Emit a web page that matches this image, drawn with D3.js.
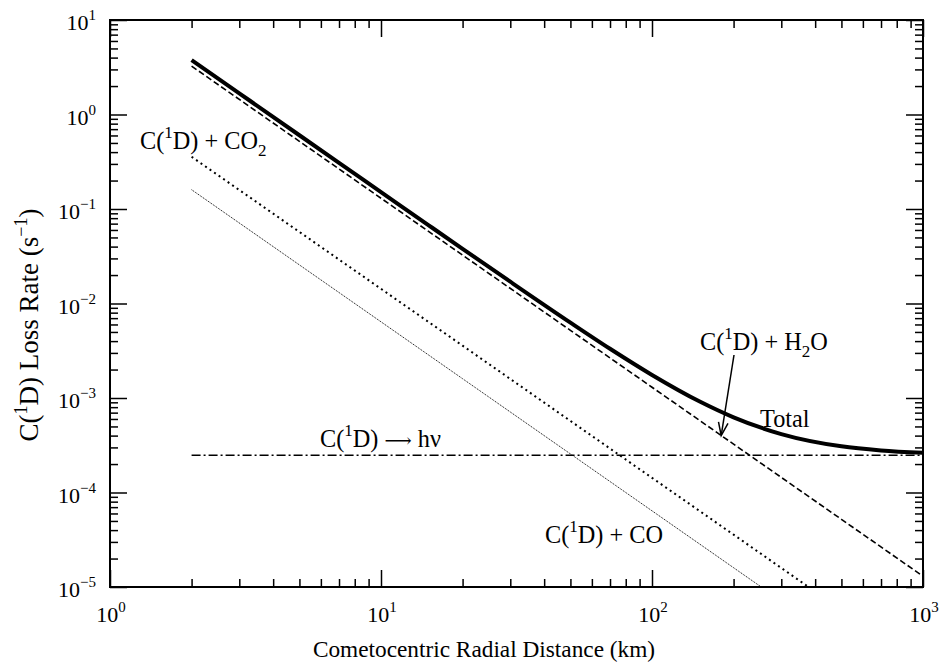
<!DOCTYPE html>
<html><head><meta charset="utf-8">
<script src="https://cdn.jsdelivr.net/npm/d3@7"></script>
<style>
body{margin:0;background:#fff;}
text{font-family:"Liberation Serif","Times New Roman",serif;fill:#000;}
</style></head>
<body><svg id="c" width="943" height="666"></svg>
<script>
// ---- data ----
const xMajor = [1, 10, 100, 1000];
const xMajorExp = ["0", "1", "2", "3"];
const yMajor = [1e-5, 1e-4, 1e-3, 1e-2, 1e-1, 1, 10];
const yMajorExp = ["\u22125", "\u22124", "\u22123", "\u22122", "\u22121", "0", "1"];

const rH2O = [2, 5, 10, 20, 50, 100, 200, 500, 1000];
const vH2O = [3.25, 0.52, 0.13, 0.0325, 0.0052, 0.0013, 3.25e-4, 5.2e-5, 1.3e-5];

const rCO2 = [2, 5, 10, 20, 50, 100, 200, 500];
const vCO2 = [0.357, 0.0572, 0.0143, 3.58e-3, 5.72e-4, 1.43e-4, 3.58e-5, 5.72e-6];

const rCO = [2, 5, 10, 20, 50, 100, 200, 500];
const vCO = [0.16, 0.0256, 6.4e-3, 1.6e-3, 2.56e-4, 6.4e-5, 1.6e-5, 2.56e-6];

const rHv = [2, 1000];
const vHv = [2.48e-4, 2.48e-4];

const rTot = [2, 3, 5, 7, 10, 15, 20, 30, 50, 70, 100, 150, 200, 300, 500, 700, 1000];
const vTot = [3.77, 1.675, 0.603, 0.3078, 0.151, 0.0672, 0.0379, 0.017, 0.00628, 0.00332,
              0.001755, 0.000918, 0.000625, 0.000415, 0.000308, 0.000279, 0.000263];

// ---- chart ----
const svg = d3.select("#c");
const L = 110, R = 923, T = 20, B = 587;
const x = d3.scaleLog().domain([1, 1000]).range([L, R]);
const y = d3.scaleLog().domain([1e-5, 10]).range([B, T]);

const minors = (dom) => {
  const out = [];
  for (let d = dom[0]; d < dom[1]; d *= 10)
    for (let k = 2; k <= 9; k++) out.push(d * k);
  return out;
};
const xMinor = minors([1, 1000]);
const yMinor = minors([1e-5, 10]);

svg.append("defs").append("clipPath").attr("id", "clip")
  .append("rect").attr("x", L).attr("y", T).attr("width", R - L).attr("height", B - T);

function axisStyle(g) {
  g.select(".domain").remove();
  g.selectAll(".tick line").attr("stroke", "#000").attr("stroke-width", 1.5);
  g.selectAll(".tick text").remove();
}
const MAJ = 17, MIN = 8;
svg.append("g").attr("transform", `translate(0,${B})`).call(d3.axisBottom(x).tickValues(xMajor).tickSize(-MAJ)).call(axisStyle);
svg.append("g").attr("transform", `translate(0,${B})`).call(d3.axisBottom(x).tickValues(xMinor).tickSize(-MIN)).call(axisStyle);
svg.append("g").attr("transform", `translate(0,${T})`).call(d3.axisTop(x).tickValues(xMajor).tickSize(-MAJ)).call(axisStyle);
svg.append("g").attr("transform", `translate(0,${T})`).call(d3.axisTop(x).tickValues(xMinor).tickSize(-MIN)).call(axisStyle);
svg.append("g").attr("transform", `translate(${L},0)`).call(d3.axisLeft(y).tickValues(yMajor).tickSize(-MAJ)).call(axisStyle);
svg.append("g").attr("transform", `translate(${L},0)`).call(d3.axisLeft(y).tickValues(yMinor).tickSize(-MIN)).call(axisStyle);
svg.append("g").attr("transform", `translate(${R},0)`).call(d3.axisRight(y).tickValues(yMajor).tickSize(-MAJ)).call(axisStyle);
svg.append("g").attr("transform", `translate(${R},0)`).call(d3.axisRight(y).tickValues(yMinor).tickSize(-MIN)).call(axisStyle);

svg.append("rect").attr("x", L).attr("y", T).attr("width", R - L).attr("height", B - T)
  .attr("fill", "none").attr("stroke", "#000").attr("stroke-width", 2);

// tick labels
xMajor.forEach((v, i) => {
  const t = svg.append("text").attr("x", x(v) + 1).attr("y", B + 35)
    .attr("text-anchor", "middle").style("font-size", "22px");
  t.append("tspan").text("10");
  t.append("tspan").attr("dy", -10).style("font-size", "15px").text(xMajorExp[i]);
});
yMajor.forEach((v, i) => {
  const t = svg.append("text").attr("x", 96).attr("y", y(v) + 10)
    .attr("text-anchor", "end").style("font-size", "22px");
  t.append("tspan").text("10");
  t.append("tspan").attr("dy", -10).style("font-size", "15px").text(yMajorExp[i]);
});

// axis titles
svg.append("text").attr("x", 484).attr("y", 657).attr("text-anchor", "middle")
  .style("font-size", "23.3px").text("Cometocentric Radial Distance (km)");
const yt = svg.append("text").attr("transform", `translate(38,325) rotate(-90)`)
  .attr("text-anchor", "middle").style("font-size", "27px");
yt.append("tspan").text("C(");
yt.append("tspan").attr("dy", -11).style("font-size", "18px").text("1");
yt.append("tspan").attr("dy", 11).text("D) Loss Rate (s");
yt.append("tspan").attr("dy", -11).style("font-size", "18px").text("\u22121");
yt.append("tspan").attr("dy", 11).text(")");

// series
const plot = svg.append("g").attr("clip-path", "url(#clip)");
function draw(rs, vs, w, dash, curve) {
  const pts = rs.map((r, i) => [r, vs[i]]);
  const ln = d3.line().x(d => x(d[0])).y(d => y(d[1])).curve(curve || d3.curveLinear);
  plot.append("path").datum(pts).attr("d", ln).attr("fill", "none")
    .attr("stroke", "#000").attr("stroke-width", w)
    .attr("stroke-dasharray", dash || null);
}
draw(rCO, vCO, 1, "1,1");
draw(rCO2, vCO2, 2, "2,3.5");
draw(rHv, vHv, 1.5, "9,3,2,3");
draw(rH2O, vH2O, 1.6, "6,3");
draw(rTot, vTot, 4, null, d3.curveMonotoneX);

// labels
function label(px, py, parts) {
  const t = svg.append("text").attr("x", px).attr("y", py).style("font-size", "24.3px");
  let shift = 0;
  parts.forEach(p => {
    const s = t.append("tspan").text(p[0]);
    const target = p[1] === "sup" ? -11 : p[1] === "sub" ? 7 : 0;
    if (target !== shift) { s.attr("dy", target - shift); shift = target; }
    if (p[1] === "sup" || p[1] === "sub") s.style("font-size", "17px");
    if (p[1] === "arrow") s.style("font-family", "'DejaVu Serif','DejaVu Sans'").style("font-size", "19px").style("font-weight", "normal");
  });
  return t;
}
label(140, 149, [["C("], ["1", "sup"], ["D) + CO"], ["2", "sub"]]);
label(700, 350, [["C("], ["1", "sup"], ["D) + H"], ["2", "sub"], ["O"]]);
label(760, 427, [["Total"]]);
label(320, 447, [["C("], ["1", "sup"], ["D) "], ["\u27F6", "arrow"], [" h\u03bd"]]);
label(545, 543, [["C("], ["1", "sup"], ["D) + CO"]]);

// arrow to H2O curve
const tipR = 180, tipV = 4.0e-4;
const tx = x(tipR), ty = y(tipV);
const sx = 734, sy = 355;
svg.append("line").attr("x1", sx).attr("y1", sy).attr("x2", tx).attr("y2", ty)
  .attr("stroke", "#000").attr("stroke-width", 1.5);
const ang = Math.atan2(ty - sy, tx - sx), hl = 14, ha = 0.35;
svg.append("path").attr("d",
  `M${tx - hl * Math.cos(ang - ha)},${ty - hl * Math.sin(ang - ha)} L${tx},${ty} L${tx - hl * Math.cos(ang + ha)},${ty - hl * Math.sin(ang + ha)}`)
  .attr("fill", "none").attr("stroke", "#000").attr("stroke-width", 1.5);
</script></body></html>
